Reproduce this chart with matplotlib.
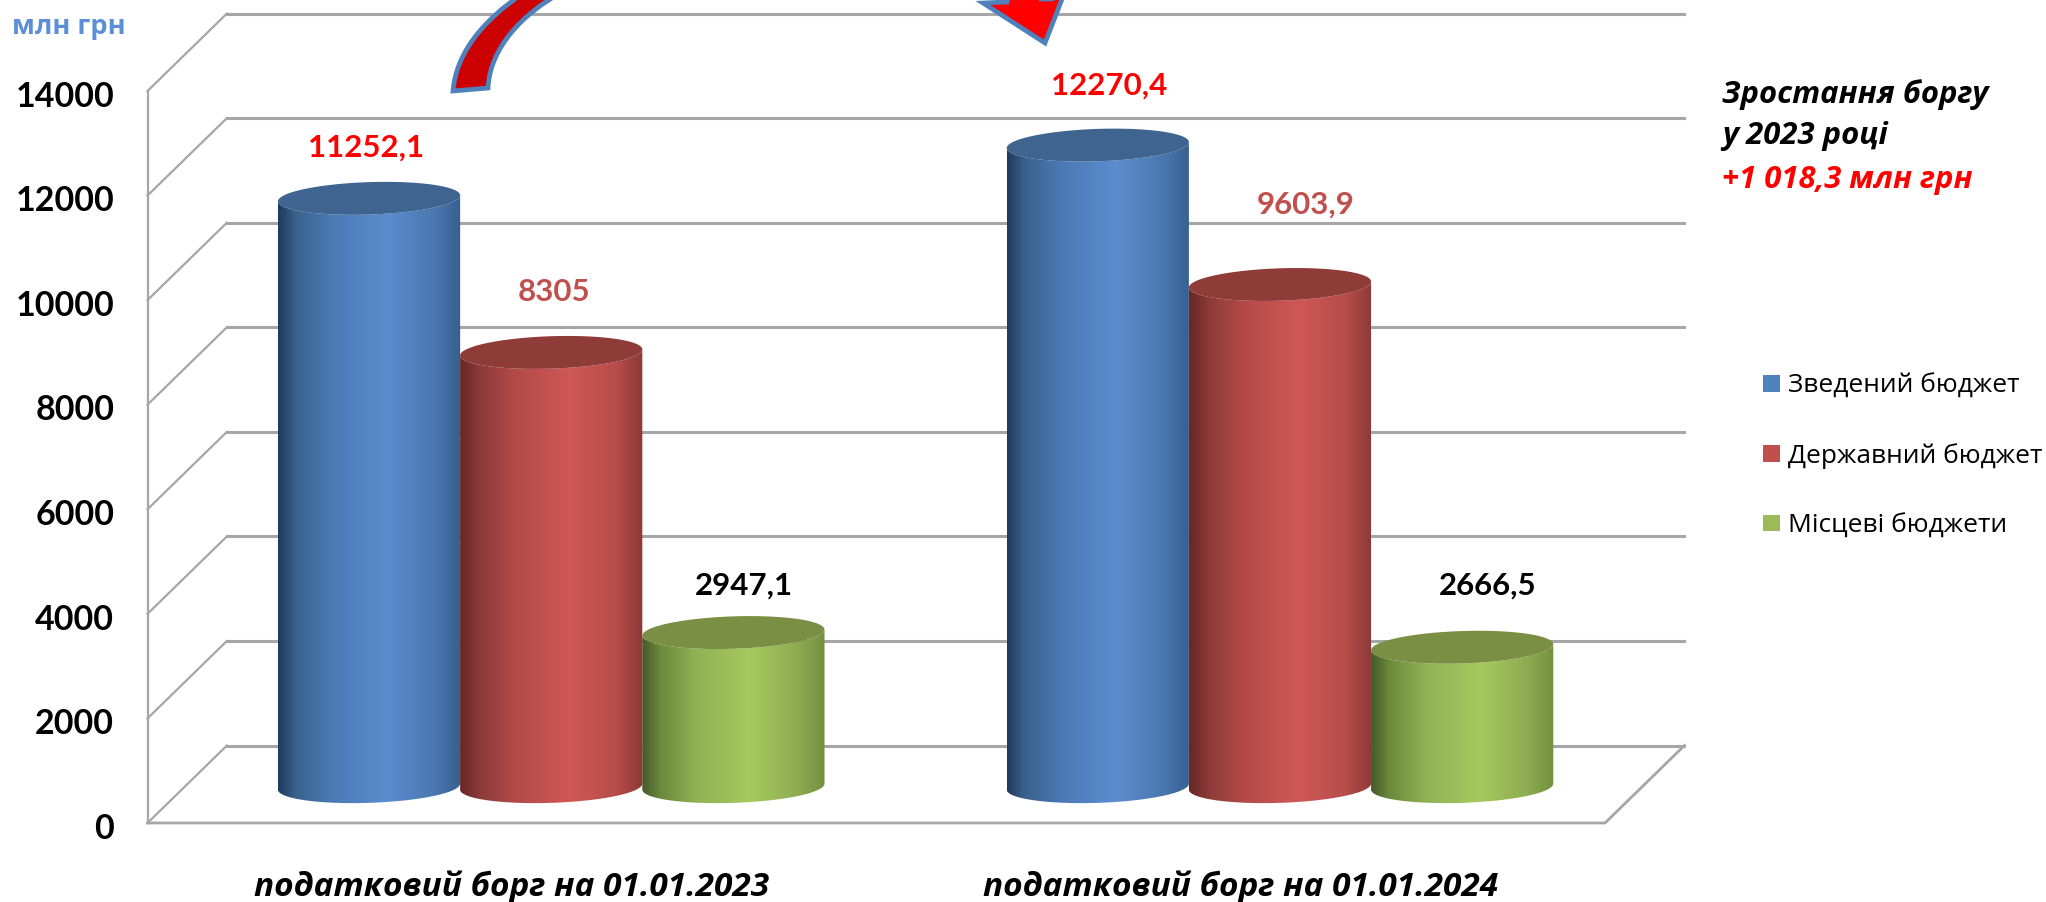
#!/usr/bin/env python3
"""Tax debt 3D-look cylinder chart, budget split at 01.01.2023 and 01.01.2024."""
import matplotlib
matplotlib.use("Agg")
import matplotlib.pyplot as plt
import numpy as np
from matplotlib.colors import to_rgb
from matplotlib.patches import Patch, Polygon, PathPatch
from matplotlib.path import Path
from matplotlib.transforms import ScaledTranslation

W, H = 2046, 902
TEXT_FONT = ["Open Sans", "Noto Sans", "DejaVu Sans"]
NUM_FONT = ["Lato", "Open Sans", "DejaVu Sans"]

# data
CATEGORIES = ["податковий борг на 01.01.2023", "податковий борг на 01.01.2024"]
SERIES = ["Зведений бюджет", "Державний бюджет", "Місцеві бюджети"]
CONSOLIDATED = [11252.1, 12270.4]
STATE = [8305, 9603.9]
LOCAL = [2947.1, 2666.5]
Y_TICKS = [0, 2000, 4000, 6000, 8000, 10000, 12000, 14000]
NOTE = ["Зростання боргу", "у 2023 році", "+1 018,3 млн грн"]

# styling
GRID = "#a6a6a6"
LEGEND_COLORS = ["#4f81bd", "#c0504d", "#9bbb59"]
TOP_COLORS = ["#3f648f", "#8f3c39", "#7a8f44"]
SHADES = [
    ["#1f3a5e", "#3b628f", "#4a7bb5", "#5b8ccf", "#4a78b0", "#37608f"],
    ["#662725", "#8a3a38", "#b34a48", "#cf5856", "#b84d4b", "#8e3a38"],
    ["#47592a", "#6b8a3c", "#91b254", "#a6c95f", "#8eac50", "#73903f"],
]
SHADE_POS = [0, 0.1, 0.3, 0.6, 0.85, 1]
LABEL_COLORS = ["#ff0000", "#c0504d", "#000000"]
# label lift above cylinder top, px
LABEL_SHIFT = [[(-3, 51), (3, 60), (11, 47)], [(11, 60), (26, 80), (26, 62)]]

BAR_W = 0.25
GROUP_X = 0.054     # cylinders sit a bit deeper than the category centre
BASE = 695          # floor offset of the cylinder base, in axis units
DEPTH_X, DEPTH_Y = 0.109, 1482
ELL_H, ELL_TILT = 310, 57


def shade_image(colors):
    t = np.linspace(0, 1, 256)
    rgb = np.array([to_rgb(c) for c in colors])
    return np.stack([np.interp(t, SHADE_POS, rgb[:, i]) for i in range(3)], axis=-1)[None, :, :]


def cylinder(ax, xc, value, i, z):
    r = BAR_W / 2
    top = BASE + value
    t = np.linspace(0, -np.pi, 80)
    low_x = xc + r * np.cos(t)
    low_y = BASE + ELL_H * np.sin(t) + ELL_TILT * np.cos(t)
    t2 = np.linspace(np.pi, 2 * np.pi, 80)
    up_x = xc + r * np.cos(t2)
    up_y = top + ELL_H * np.sin(t2) + ELL_TILT * np.cos(t2)
    pts = np.column_stack([np.r_[low_x, up_x], np.r_[low_y, up_y]])
    body = PathPatch(Path(np.vstack([pts, pts[0]])), fc="none", ec="none", zorder=z)
    ax.add_patch(body)
    im = ax.imshow(shade_image(SHADES[i]), extent=(xc - r, xc + r, BASE - 500, top + 500),
                   aspect="auto", interpolation="bilinear", zorder=z)
    im.set_clip_path(body)
    t3 = np.linspace(0, 2 * np.pi, 160)
    cap = np.column_stack([xc + r * np.cos(t3), top + ELL_H * np.sin(t3) + ELL_TILT * np.cos(t3)])
    ax.add_patch(Polygon(cap, closed=True, fc=TOP_COLORS[i], ec="none", zorder=z + 0.1))


def draw_walls(ax):
    for v in Y_TICKS:
        ax.plot([0, DEPTH_X], [v, v + DEPTH_Y], color=GRID, lw=1.6, clip_on=False, zorder=1)
        ax.plot([DEPTH_X, 2 + DEPTH_X], [v + DEPTH_Y, v + DEPTH_Y], color=GRID, lw=2.2,
                clip_on=False, zorder=1)
    ax.plot([0, 0], [0, Y_TICKS[-1]], color=GRID, lw=1.6, zorder=1, clip_on=False)
    ax.plot([0, 2, 2 + DEPTH_X], [0, 0, DEPTH_Y], color=GRID, lw=2, zorder=1, clip_on=False)


def draw_arrows(fig):
    # big curved arrow running off the top edge, only its two ends are visible
    ax2 = fig.add_axes([0, 0, 1, 1], facecolor="none")
    ax2.set_xlim(0, W)
    ax2.set_ylim(H, 0)
    ax2.axis("off")
    verts = [(453, 91), (456, 55), (480, 22), (525, -8), (562, -8), (522, 14), (490, 48),
             (488, 88), (453, 91)]
    codes = [Path.MOVETO, Path.CURVE4, Path.CURVE4, Path.CURVE4, Path.LINETO,
             Path.CURVE4, Path.CURVE4, Path.CURVE4, Path.CLOSEPOLY]
    ax2.add_patch(PathPatch(Path(verts, codes), fc="#cc0000", ec="#4f81bd", lw=3.4, zorder=20))
    head = [(983, 3), (1045, 43), (1064, -6), (1052, -1), (1041, -1), (1032, -6), (1008, -6), (1007, 2)]
    ax2.add_patch(Polygon(head, closed=True, fc="#ff0000", ec="#4f81bd", lw=3.4, zorder=20))


def main():
    fig = plt.figure(figsize=(W / 100, H / 100), dpi=100, facecolor="white")
    ax = fig.add_axes([147.5 / W, 1 - 823 / H, (1605 - 147.5) / W, (823 - 91) / H], facecolor="none")
    draw_walls(ax)

    centers = [0.5 + GROUP_X, 1.5 + GROUP_X]
    for i, vals in enumerate([CONSOLIDATED, STATE, LOCAL]):
        for g, v in enumerate(vals):
            xc = centers[g] + (i - 1) * BAR_W
            cylinder(ax, xc, v, i, 3 + i)
            dx, dy = LABEL_SHIFT[g][i]
            ax.annotate(str(v).replace(".", ","), (xc, BASE + v), xytext=(dx * 0.72, dy * 0.72),
                        textcoords="offset points", ha="center", va="center", fontsize=22.5,
                        fontweight="bold", family=NUM_FONT, color=LABEL_COLORS[i], zorder=10,
                        annotation_clip=False)

    ax.set_xlim(0, 2)
    ax.set_ylim(0, 14000)
    ax.set_yticks(Y_TICKS)
    ax.set_yticklabels([str(v) for v in Y_TICKS], family=NUM_FONT, fontweight="bold", fontsize=24.5)
    ax.set_xticks([0.5, 1.5])
    ax.set_xticklabels(CATEGORIES, family=TEXT_FONT, fontweight="bold", style="italic", fontsize=24)
    ax.tick_params(axis="y", length=0, pad=24)
    ax.tick_params(axis="x", length=0, pad=34.5)
    shift = ScaledTranslation(0, -2 / 72, fig.dpi_scale_trans)
    for lab in ax.get_yticklabels():
        lab.set_transform(lab.get_transform() + shift)
    for s in ax.spines.values():
        s.set_visible(False)

    fig.text(12 / W, 1 - 27 / H, "млн грн", color="#5b8fd6", fontsize=19.5, fontweight="bold",
             family=TEXT_FONT, va="center")
    for line, y, c in zip(NOTE, [95, 136, 180], ["black", "black", "#ff0000"]):
        fig.text(1722 / W, 1 - y / H, line, color=c, fontsize=22.3, fontweight="bold", style="italic",
                 family=TEXT_FONT, va="center")

    handles = [Patch(fc=c, ec="none") for c in LEGEND_COLORS]
    fig.legend(handles, SERIES, loc="center left", bbox_to_anchor=(1763 / W, 1 - 456 / H), frameon=False,
               prop={"family": TEXT_FONT, "size": 19}, handlelength=0.63, handleheight=0.59,
               handletextpad=0.3, labelspacing=1.68, borderpad=0, borderaxespad=0)

    draw_arrows(fig)
    fig.savefig("out.png", dpi=100)
    plt.close(fig)


if __name__ == "__main__":
    main()
